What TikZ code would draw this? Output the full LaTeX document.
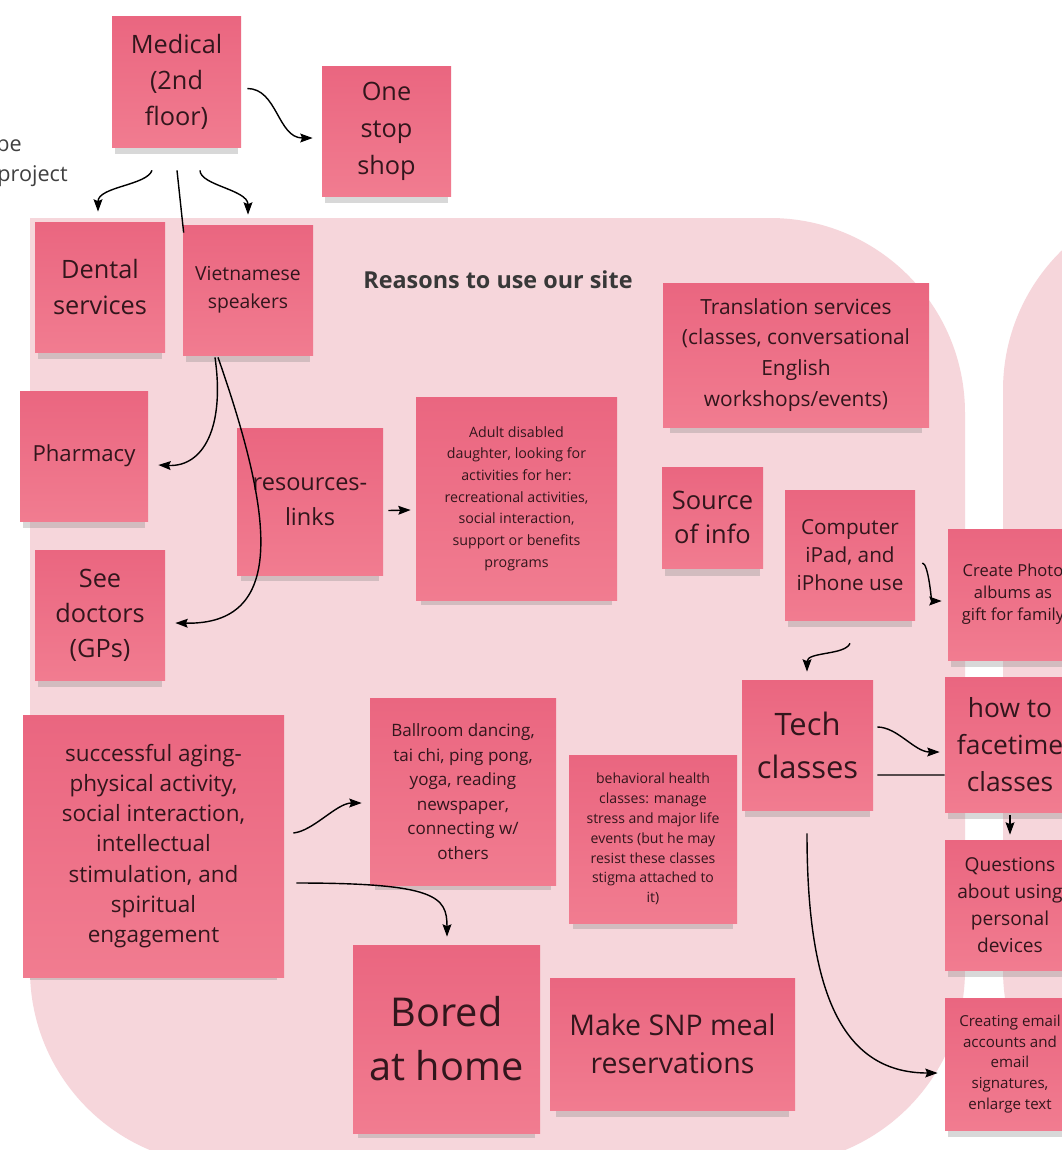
\documentclass[tikz,border=0pt]{standalone}
\usepackage{fontspec}
\setmainfont{Open Sans}
\usetikzlibrary{arrows.meta,calc,shadows}

\definecolor{notetop}{HTML}{EA6680}
\definecolor{notebot}{HTML}{F17C90}
\definecolor{zone}{HTML}{F6D6DB}
\definecolor{ink}{HTML}{32161C}
\newcommand\fsz[2]{\fontsize{#1}{#2}\selectfont}

\tikzset{
  sticky/.style 2 args={shading=axis,top color=notetop,bottom color=notebot,
    minimum width=#1*0.02cm,minimum height=#2*0.02cm,inner sep=0pt,align=center,text=ink,
    drop shadow={shadow xshift=0pt,shadow yshift=-6pt,shadow scale=0.95,opacity=0.3}},
  arrowlink/.style={draw=black,line width=0.8pt,-{Stealth[length=7pt,width=5pt,inset=1pt]}},
  wire/.style={draw=black,line width=0.8pt},
  cuttext/.style={inner sep=0pt,text=black!75,font=\fsz{12.3}{16}}
}

\begin{document}
\begin{tikzpicture}[x=0.02cm,y=-0.02cm]
    \fill[white] (0,0) rectangle (1062,1150);
    \useasboundingbox (0,0) rectangle (1062,1150);
    % background zones
    \fill[zone,rounded corners=3.9cm] (30,218) rectangle (965,1165);
    \fill[zone] (30,218) rectangle (300,500);
    \fill[zone,rounded corners=3.9cm] (1003,195) rectangle (1400,1165);

    \node[cuttext,anchor=east] (tobe) at (22,143) {be};
    \node[cuttext,anchor=east] (proj) at (68,176) {project};
    \node[font=\bfseries\fsz{13.3}{16},text=black!78] (reasons) at (498,280) {Reasons to use our site};

    \node[sticky={129}{131},font=\fsz{14.4}{20.5}] (med) at (176.5,81.5) {Medical\\(2nd\\floor)};
    \node[sticky={129}{130},font=\fsz{14.4}{21}] (onestop) at (386.5,131) {One\\stop\\shop};
    \node[sticky={130}{130},font=\fsz{14.4}{21}] (dental) at (100,287) {Dental\\services};
    \node[sticky={130}{130},font=\fsz{11}{16}] (viet) at (248,290) {Vietnamese\\speakers};
    \node[sticky={128}{130},font=\fsz{12.6}{17}] (pharm) at (84,456) {Pharmacy};
    \node[sticky={146}{147},font=\fsz{13.4}{20}] (reslink) at (310,501.5) {resources-\\links};
    \node[sticky={201}{203},font=\fsz{8.1}{12.3}] (adult) at (516.5,498.5)
        {Adult disabled\\daughter, looking for\\activities for her:\\recreational activities,\\social interaction,\\support or benefits\\programs};
    \node[sticky={130}{130},font=\fsz{14.4}{20}] (doctors) at (100,615) {See\\doctors\\(GPs)};
    \node[sticky={266}{144},font=\fsz{11.9}{17.6}] (transl) at (796,355)
        {Translation services\\(classes, conversational\\English\\workshops/events)};
    \node[sticky={101}{101},font=\fsz{14.5}{19.4}] (source) at (712.5,517.5) {Source\\of info};
    \node[sticky={130}{130},font=\fsz{11.8}{16}] (comp) at (850,555) {Computer\\iPad, and\\iPhone use};
    \node[sticky={130}{131},font=\fsz{9.4}{12.5}] (photo) at (1013,594.5) {Create Photo\\albums as\\gift for family};
    \node[sticky={131}{130},font=\fsz{17.6}{24.5}] (tech) at (807.5,745) {Tech\\classes};
    \node[sticky={130}{135},font=\fsz{15}{21}] (facetime) at (1010,744.5) {how to\\facetime\\classes};
    \node[sticky={130}{130},font=\fsz{10.9}{15.4}] (quest) at (1010,905) {Questions\\about using\\personal\\devices};
    \node[sticky={130}{132},font=\fsz{8.6}{11.8}] (email) at (1010,1064)
        {Creating email\\accounts and\\email\\signatures,\\enlarge text};
    \node[sticky={261}{262},font=\fsz{12.8}{17.2}] (aging) at (153.5,846)
        {successful aging-\\physical activity,\\social interaction,\\intellectual\\stimulation, and\\spiritual\\engagement};
    \node[sticky={186}{187},font=\fsz{9.7}{14}] (ballroom) at (463,791.5)
        {Ballroom dancing,\\tai chi, ping pong,\\yoga, reading\\newspaper,\\connecting w/\\others};
    \node[sticky={168}{168},font=\fsz{8}{11.3}] (behav) at (653,839)
        {behavioral health\\classes: manage\\stress and major life\\events (but he may\\resist these classes\\stigma attached to\\it)};
    \node[sticky={187}{188},font=\fsz{22.6}{30.7}] (bored) at (446.5,1039) {Bored\\at home};
    \node[sticky={245}{132},font=\fsz{16.2}{21.6}] (snp) at (672.5,1044) {Make SNP meal\\reservations};

    % connectors
    \draw[arrowlink] ($(med.east)+(6,7)$) .. controls +(30,0) and +(-35,0) .. ($(onestop.west)+(-9,7)$);
    \draw[arrowlink] ($(med.south)+(-24.5,23)$) .. controls +(-5,15) and +(0,-25) .. ($(dental.north)+(-2,-10)$);
    \draw[arrowlink] ($(med.south)+(23.5,23)$) .. controls +(0,15) and +(0,-25) .. ($(viet.north)+(0,-10)$);
    \draw[wire] ($(med.south)+(0.5,23)$) -- ($(viet.north west)+(1,8)$);
    \draw[arrowlink] ($(viet.south)+(-33,2)$) .. controls +(10,70) and +(45,2) .. ($(pharm.east)+(10,9)$);
    \draw[arrowlink] ($(viet.south)+(-30,2)$) .. controls +(57,163) and +(110,2) .. ($(doctors.east)+(10,8)$);
    \draw[arrowlink] ($(reslink.east)+(5,9)$) -- ($(adult.west)+(-5,11.5)$);
    \draw[arrowlink] ($(comp.east)+(7,8)$) .. controls +(6,0) and +(-10,0) .. ($(photo.west)+(-6,6.5)$);
    \draw[arrowlink] ($(comp.south)+(0,23)$) .. controls +(-5,12) and +(0,-20) .. ($(tech.north)+(-0.5,-8)$);
    \draw[arrowlink] ($(tech.east)+(4,-18)$) .. controls +(20,0) and +(-25,0) .. ($(facetime.west)+(-5,7.5)$);
    \draw[wire] ($(tech.east)+(4,30)$) -- ($(facetime.west)+(0,30.5)$);
    \draw[arrowlink] ($(facetime.south)+(0,2.5)$) -- ($(quest.north)+(0,-5)$);
    \draw[arrowlink] ($(tech.south)+(-0.5,23)$) .. controls +(0,150) and +(-100,0) .. ($(email.west)+(-7,9)$);
    \draw[arrowlink] ($(aging.east)+(9,-13)$) .. controls +(20,-2) and +(-25,0) .. ($(ballroom.west)+(-8,11.5)$);
    \draw[arrowlink] ($(aging.east)+(12,37)$) .. controls +(140,0) and +(0,-40) .. ($(bored.north)+(0.5,-8)$);
\end{tikzpicture}
\end{document}
